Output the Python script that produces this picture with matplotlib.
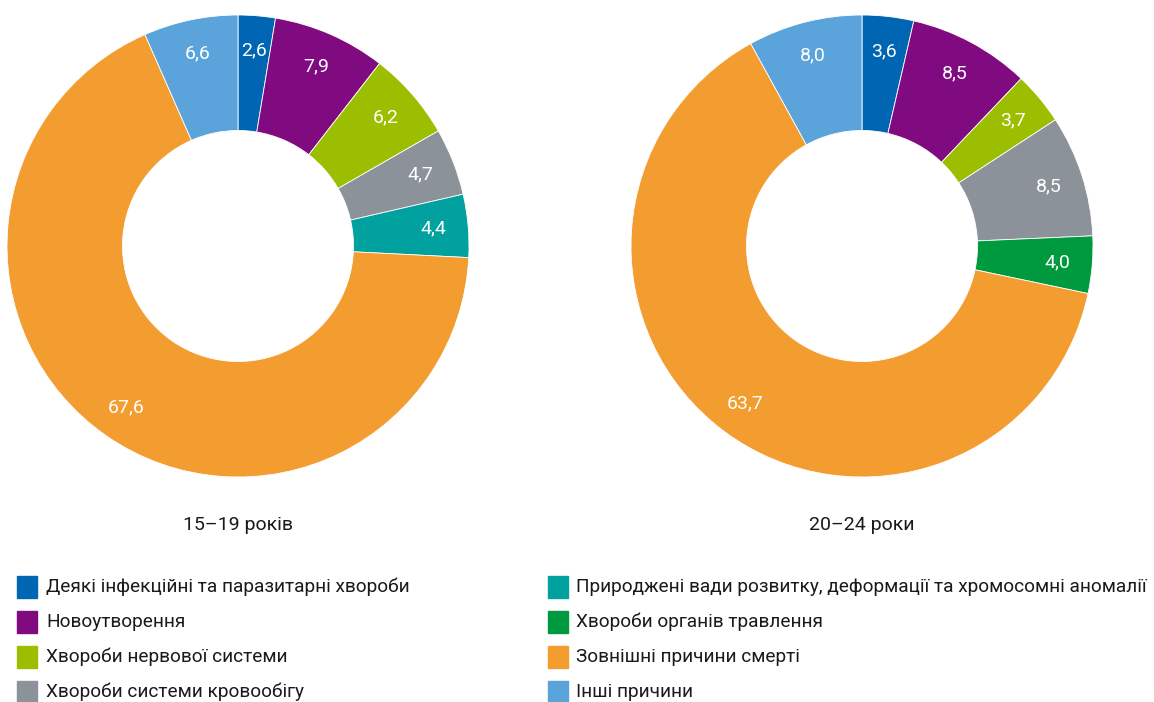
import matplotlib.pyplot as plt
from matplotlib.patches import Rectangle

plt.rcParams['font.family'] = ['Roboto', 'DejaVu Sans']

# data
left_title = '15–19 років'
right_title = '20–24 роки'
left_vals = [2.6, 7.9, 6.2, 4.7, 4.4, 67.6, 6.6]
left_colors = ['#0066b3', '#800a80', '#9bbe00', '#8c9299', '#00a19e', '#f39c2f', '#5ba3db']
right_vals = [3.6, 8.5, 3.7, 8.5, 4.0, 63.7, 8.0]
right_colors = ['#0066b3', '#800a80', '#9bbe00', '#8c9299', '#009a3e', '#f39c2f', '#5ba3db']

legend_labels = [
    'Деякі інфекційні та паразитарні хвороби',
    'Новоутворення',
    'Хвороби нервової системи',
    'Хвороби системи кровообігу',
    'Природжені вади розвитку, деформації та хромосомні аномалії',
    'Хвороби органів травлення',
    'Зовнішні причини смерті',
    'Інші причини',
]
legend_colors = ['#0066b3', '#800a80', '#9bbe00', '#8c9299',
                 '#00a19e', '#009a3e', '#f39c2f', '#5ba3db']

W, H = 1154, 702
fig = plt.figure(figsize=(W / 100, H / 100), dpi=100)


def donut(cx, cy, r, vals, colors, title):
    ax = fig.add_axes([(cx - r) / W, (H - cy - r) / H, 2 * r / W, 2 * r / H])
    ax.pie(vals, colors=colors, startangle=90, counterclock=False,
           radius=1, wedgeprops=dict(width=0.5, linewidth=0.6, edgecolor='white'),
           labels=[('%.1f' % v).replace('.', ',') for v in vals],
           labeldistance=0.85,
           textprops=dict(color='white', fontsize=14, ha='center', va='center'))
    ax.set_xlim(-1, 1)
    ax.set_ylim(-1, 1)
    ax.set_aspect('equal')
    fig.text(cx / W, 1 - 525 / H, title, ha='center', va='center', fontsize=14, color='#1a1a1a')


donut(238, 246, 231, left_vals, left_colors, left_title)
donut(862, 246, 231, right_vals, right_colors, right_title)

# legend
rows_y = [587, 622, 657, 692]
for i, (lab, col) in enumerate(zip(legend_labels, legend_colors)):
    col_i, row_i = divmod(i, 4)
    sx = 17 if col_i == 0 else 548
    tx = 46 if col_i == 0 else 576
    y = rows_y[row_i]
    fig.patches.append(Rectangle((sx / W, 1 - (y + 11) / H), 20 / W, 22 / H,
                                 transform=fig.transFigure, color=col))
    fig.text(tx / W, 1 - y / H, lab, ha='left', va='center', fontsize=13.7, color='#1a1a1a')

fig.savefig('out.png', dpi=100)
